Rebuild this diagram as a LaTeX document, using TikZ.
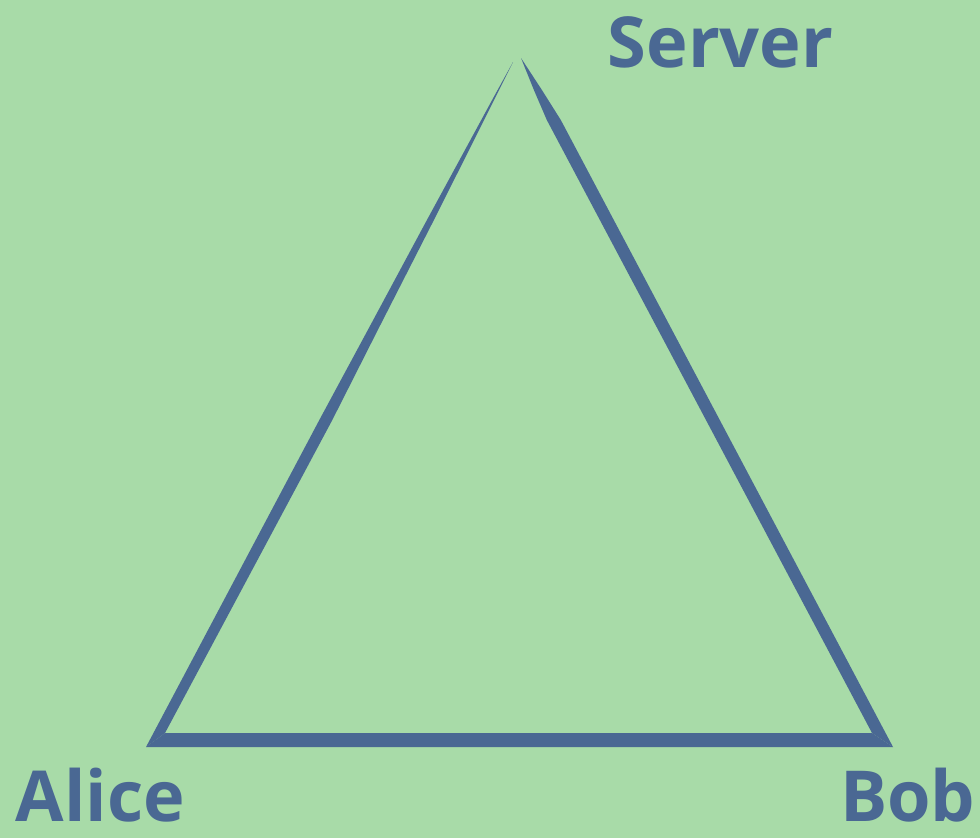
\documentclass[tikz,border=0pt]{standalone}
\usepackage{fontspec}
\setmainfont{Open Sans}
\usetikzlibrary{positioning}
\definecolor{trgreen}{HTML}{A8DBA8}
\definecolor{trblue}{HTML}{4A6893}

\begin{document}
\begin{tikzpicture}[
  x=0.01cm, y=-0.01cm,
  brush/.style={fill=trblue, draw=none},
  party/.style={font=\fontsize{20}{24}\selectfont\bfseries, text=trblue, inner sep=0pt, text depth=0pt},
]

% Background
\fill[trgreen] (0,0) rectangle (980,838);
\useasboundingbox (0,0) rectangle (980,838);

% Left side: thin at the top, full width lower down
\fill[brush] (513,62) -- (494.1,100) -- (433.9,220) -- (377.8,330) -- (332.3,420)
  -- (165,733) -- (146,747) -- (319.3,420) -- (367.8,330) -- (426.9,220) -- (492.1,100) -- cycle;

% Right side
\fill[brush] (521,58) -- (541.9,90) -- (560.8,120) -- (893,747)
  -- (872,733) -- (546.8,120) -- (533.9,90) -- cycle;

% Bottom side
\fill[brush] (146,747) -- (893,747) -- (872,733) -- (165,733) -- cycle;

% Labels
\node[party, anchor=base west] (server) at (607,67) {Server};
\node[party, anchor=base west] (alice) at (15,821) {Alice};
\node[party, anchor=base east] (bob) at (976,821) {Bob};

\end{tikzpicture}
\end{document}
